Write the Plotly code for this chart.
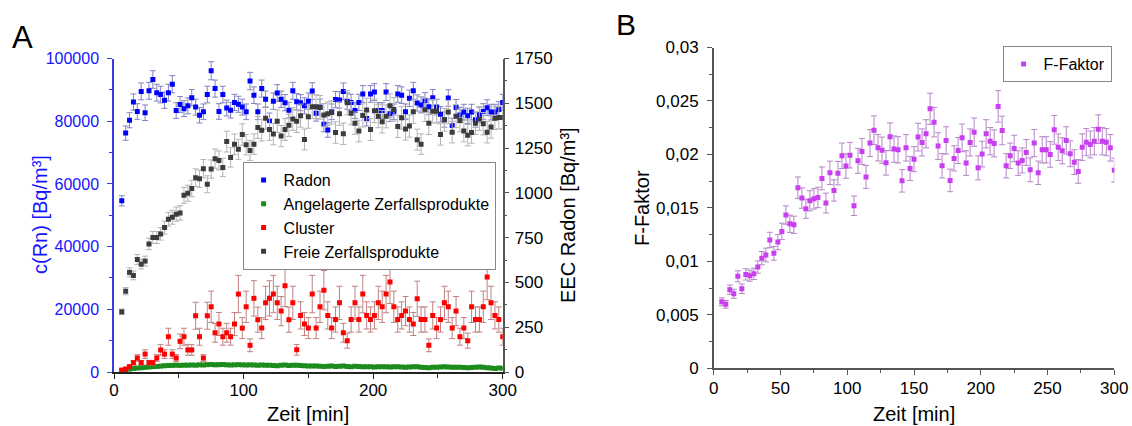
import plotly.graph_objects as go

# ---------------- data ----------------
zeit = [6, 9, 12, 15, 18, 21, 24, 27, 30, 33, 36, 39, 42, 45, 48, 51, 54, 57, 60, 63,
        66, 69, 72, 75, 78, 81, 84, 87, 90, 93, 96, 99, 102, 105, 108, 111, 114, 117, 120, 123,
        126, 129, 132, 135, 138, 141, 144, 147, 150, 153, 156, 159, 162, 165, 168, 171, 174, 177, 180, 183,
        186, 189, 192, 195, 198, 201, 204, 207, 210, 213, 216, 219, 222, 225, 228, 231, 234, 237, 240, 243,
        246, 249, 252, 255, 258, 261, 264, 267, 270, 273, 276, 279, 282, 285, 288, 291, 294, 297, 300]

radon = [54600, 76200, 80300, 86100, 83100, 89500, 82700, 89700, 93300, 89100,
         88500, 86700, 89100, 91800, 83400, 85300, 84000, 84900, 87500, 84500,
         81900, 83000, 88500, 96100, 90400, 83100, 88500, 84200, 83500, 86000,
         85400, 84500, 83000, 92800, 88300, 83000, 90400, 87000, 80200, 86400,
         89000, 87000, 85900, 83500, 89700, 86200, 85900, 84900, 86400, 89600,
         82500, 84500, 79000, 77200, 83000, 86900, 86800, 89500, 86400, 86000,
         83400, 86000, 88700, 80900, 88700, 89300, 83400, 83400, 89300, 82400,
         83000, 88700, 88300, 83000, 87300, 89700, 85800, 85200, 86500, 84600,
         87500, 84500, 82200, 80500, 87400, 78600, 84400, 82000, 82900, 81700,
         82900, 80500, 82100, 83100, 84300, 82900, 82900, 83700, 86000]

angelagerte = [8, 12, 16, 20, 22, 24, 26, 28, 30, 31, 33, 35, 36, 37, 38, 37, 38, 38, 39, 38,
               40, 39, 41, 42, 40, 41, 42, 40, 39, 40, 41, 40, 39, 40, 39, 38, 39, 38, 37, 36,
               35, 38, 39, 36, 37, 38, 36, 35, 34, 33, 34, 32, 31, 32, 33, 31, 32, 33, 31, 30,
               32, 31, 29, 30, 29, 28, 29, 30, 29, 28, 30, 29, 28, 27, 28, 29, 30, 27, 25, 24,
               26, 27, 28, 29, 28, 26, 27, 26, 25, 24, 25, 27, 28, 26, 24, 22, 20, 22, 21]

cluster = [11, 17, 30, 52, 78, 52, 100, 52, 52, 78, 123, 100, 197, 100, 78, 171, 197, 123, 123, 314,
           197, 78, 314, 364, 219, 268, 197, 219, 197, 268, 435, 245, 364, 149, 411, 292, 245, 386, 411, 435,
           386, 340, 481, 292, 386, 124, 316, 268, 245, 435, 245, 364, 457, 316, 245, 293, 386, 219, 175, 293,
           386, 293, 435, 316, 293, 316, 386, 364, 435, 503, 364, 293, 316, 340, 293, 268, 409, 293, 293, 149,
           316, 245, 293, 386, 364, 245, 340, 197, 245, 175, 364, 293, 293, 364, 531, 386, 316, 293, 197]

freie = [336, 451, 556, 539, 628, 602, 619, 715, 751, 751, 771, 806, 853, 864, 881, 888, 986, 998, 1024, 1085,
         1079, 1135, 1048, 1133, 1191, 1181, 1142, 1286, 1198, 1271, 1243, 1326, 1269, 1237, 1272, 1365, 1350, 1417, 1354, 1328,
         1400, 1317, 1353, 1377, 1412, 1400, 1431, 1298, 1425, 1481, 1481, 1477, 1434, 1442, 1449, 1337, 1442, 1330, 1503, 1445,
         1389, 1345, 1432, 1462, 1353, 1458, 1428, 1397, 1427, 1486, 1466, 1371, 1419, 1356, 1373, 1453, 1297, 1272, 1464, 1388,
         1456, 1455, 1326, 1408, 1451, 1339, 1428, 1404, 1345, 1322, 1337, 1389, 1412, 1386, 1339, 1367, 1417, 1421, 1420]

f_faktor = [0.00622, 0.00598, 0.00735, 0.00697, 0.00860, 0.00744, 0.00878, 0.00866, 0.00884, 0.00947,
            0.0103, 0.0106, 0.0120, 0.01075, 0.0118, 0.0128, 0.01433, 0.01352, 0.01342, 0.01688,
            0.01592, 0.01492, 0.01567, 0.01585, 0.01598, 0.01776, 0.01545, 0.01828, 0.01663, 0.01825,
            0.01987, 0.01891, 0.01993, 0.0152, 0.0194, 0.02028, 0.0179, 0.02106, 0.02227, 0.02062,
            0.0204, 0.01922, 0.02165, 0.0205, 0.02043, 0.01753, 0.02062, 0.01869, 0.01956, 0.02162,
            0.02112, 0.02193, 0.02427, 0.02302, 0.02078, 0.01894, 0.02131, 0.01757, 0.01963, 0.02037,
            0.02155, 0.01919, 0.02112, 0.02208, 0.01875, 0.02003, 0.02193, 0.02124, 0.02103, 0.02449,
            0.02224, 0.01894, 0.01987, 0.02056, 0.01919, 0.01944, 0.02019, 0.01856, 0.02106, 0.01828,
            0.02043, 0.02043, 0.0200, 0.0223, 0.02068, 0.02034, 0.02131, 0.02006, 0.01928, 0.01841,
            0.02068, 0.02115, 0.02093, 0.02124, 0.02236, 0.02124, 0.02115, 0.02062, 0.01853]

# relative uncertainties (percent)
err_radon_pct = 3
err_freie_pct = 4.5
err_cluster_pct = 24
err_angel_abs = 4
err_f_pct = 6

x_ticks_a = [0, 100, 200, 300]
y_ticks_rn = [0, 20000, 40000, 60000, 80000, 100000]
y_ticks_eec = [0, 250, 500, 750, 1000, 1250, 1500, 1750]
x_ticks_b = [0, 50, 100, 150, 200, 250, 300]
y_ticks_f = [0, 0.005, 0.01, 0.015, 0.02, 0.025, 0.03]

# ---------------- figure ----------------
W, H = 1132, 426
FONT = "Arial, Liberation Sans, sans-serif"


def px(x):
    return x / W


def py(y):
    return 1 - y / H


fig = go.Figure()

fig.add_trace(go.Scatter(
    x=zeit, y=radon, mode="markers", name="Radon", xaxis="x", yaxis="y",
    marker=dict(symbol="square", size=5, color="#0000ff", line=dict(width=0)),
    error_y=dict(type="percent", value=err_radon_pct, color="#8383c0", thickness=1, width=3),
    legend="legend"))
fig.add_trace(go.Scatter(
    x=zeit, y=angelagerte, mode="markers", name="Angelagerte Zerfallsprodukte", xaxis="x", yaxis="y2",
    marker=dict(symbol="square", size=5, color="#1c8c1c", line=dict(width=0)),
    error_y=dict(type="constant", value=err_angel_abs, color="#7fb07f", thickness=1, width=2),
    legend="legend"))
fig.add_trace(go.Scatter(
    x=zeit, y=cluster, mode="markers", name="Cluster", xaxis="x", yaxis="y2",
    marker=dict(symbol="square", size=5, color="#ff0000", line=dict(width=0)),
    error_y=dict(type="percent", value=err_cluster_pct, color="#c08080", thickness=1, width=3),
    legend="legend"))
fig.add_trace(go.Scatter(
    x=zeit, y=freie, mode="markers", name="Freie Zerfallsprodukte", xaxis="x", yaxis="y2",
    marker=dict(symbol="square", size=5, color="#3c3c3c", line=dict(width=0)),
    error_y=dict(type="percent", value=err_freie_pct, color="#b4b4b4", thickness=1, width=3),
    legend="legend"))
fig.add_trace(go.Scatter(
    x=zeit, y=f_faktor, mode="markers", name="F-Faktor", xaxis="x2", yaxis="y3",
    marker=dict(symbol="square", size=5, color="#c93ff0", line=dict(width=0)),
    error_y=dict(type="percent", value=err_f_pct, color="#b585c8", thickness=1, width=3),
    legend="legend2"))

tickfont = dict(family=FONT, size=17, color="black")
AX_A = [px(114), px(502.7)]
AY_A = [py(372), py(58.5)]
AX_B = [px(713.8), px(1114.3)]
AY_B = [py(368.3), py(47.5)]

fig.update_layout(
    width=W, height=H,
    margin=dict(l=0, r=0, t=0, b=0),
    paper_bgcolor="white", plot_bgcolor="white",
    separators=",.",
    font=dict(family=FONT, size=16, color="black"),
    xaxis=dict(domain=AX_A, anchor="y", range=[0, 300], tickvals=x_ticks_a,
               showline=True, linecolor="#222222", linewidth=1.5, ticks="outside", ticklen=5,
               tickcolor="#222222", showgrid=False, zeroline=False, tickfont=tickfont,
               ticklabelstandoff=-3,
               minor=dict(dtick=50, ticks="outside", ticklen=4, tickcolor="#222222"),
               automargin=False),
    yaxis=dict(domain=AY_A, anchor="x", range=[0, 100000], tickvals=y_ticks_rn, tickformat="d",
               showline=True, linecolor="#3a3ae0", linewidth=1.5, ticks="outside", ticklen=5,
               tickcolor="#3a3ae0", showgrid=False, zeroline=False, ticklabelstandoff=5,
               tickfont=dict(family=FONT, size=16, color="#1414ff"),
               minor=dict(dtick=10000, ticks="outside", ticklen=3, tickcolor="#3a3ae0"),
               automargin=False),
    yaxis2=dict(overlaying="y", side="right", anchor="x", range=[0, 1750], tickvals=y_ticks_eec,
                tickformat="d", showline=True, linecolor="#555555", linewidth=1.5, ticks="outside",
                ticklen=5, tickcolor="#555555", showgrid=False, zeroline=False, tickfont=tickfont,
                ticklabelstandoff=2,
                minor=dict(dtick=125, ticks="outside", ticklen=3, tickcolor="#555555"),
                automargin=False),
    xaxis2=dict(domain=AX_B, anchor="y3", range=[0, 300], tickvals=x_ticks_b,
                showline=True, linecolor="#555555", linewidth=1.5, ticks="outside", ticklen=5,
                tickcolor="#555555", showgrid=False, zeroline=False, tickfont=tickfont,
                ticklabelstandoff=-1,
                minor=dict(dtick=25, ticks="outside", ticklen=3, tickcolor="#555555"),
                automargin=False),
    yaxis3=dict(domain=AY_B, anchor="x2", range=[0, 0.03], tickvals=y_ticks_f,
                showline=True, linecolor="#555555", linewidth=1.5, ticks="outside", ticklen=5,
                tickcolor="#555555", showgrid=False, zeroline=False, tickfont=tickfont,
                ticklabelstandoff=5,
                minor=dict(dtick=0.0025, ticks="outside", ticklen=3, tickcolor="#555555"),
                automargin=False),
    legend=dict(x=px(242.6), y=py(162), xanchor="left", yanchor="top",
                bordercolor="#888888", borderwidth=1, bgcolor="white",
                font=dict(family=FONT, size=16, color="black"), tracegroupgap=0),
    legend2=dict(x=px(1002.6), y=py(46), xanchor="left", yanchor="top",
                 bordercolor="#888888", borderwidth=1, bgcolor="white",
                 font=dict(family=FONT, size=16, color="black")),
    showlegend=True,
)

ann = [
    dict(text="A", x=px(22.5), y=py(37), font=dict(family=FONT, size=31, color="black")),
    dict(text="B", x=px(626), y=py(24), font=dict(family=FONT, size=30, color="black")),
    dict(text="c(Rn) [Bq/m³]", x=px(40), y=py(215), textangle=-90,
         font=dict(family=FONT, size=20, color="#1414ff")),
    dict(text="EEC Radon [Bq/m³]", x=px(568), y=py(215), textangle=-90,
         font=dict(family=FONT, size=20, color="black")),
    dict(text="Zeit [min]", x=px(308), y=py(414), font=dict(family=FONT, size=20, color="black")),
    dict(text="Zeit [min]", x=px(914), y=py(414), font=dict(family=FONT, size=20, color="black")),
    dict(text="F-Faktor", x=px(642), y=py(208), textangle=-90,
         font=dict(family=FONT, size=20, color="black")),
]
for a in ann:
    a.update(xref="paper", yref="paper", showarrow=False, xanchor="center", yanchor="middle")
fig.update_layout(annotations=ann)

fig.write_html("out.html")
